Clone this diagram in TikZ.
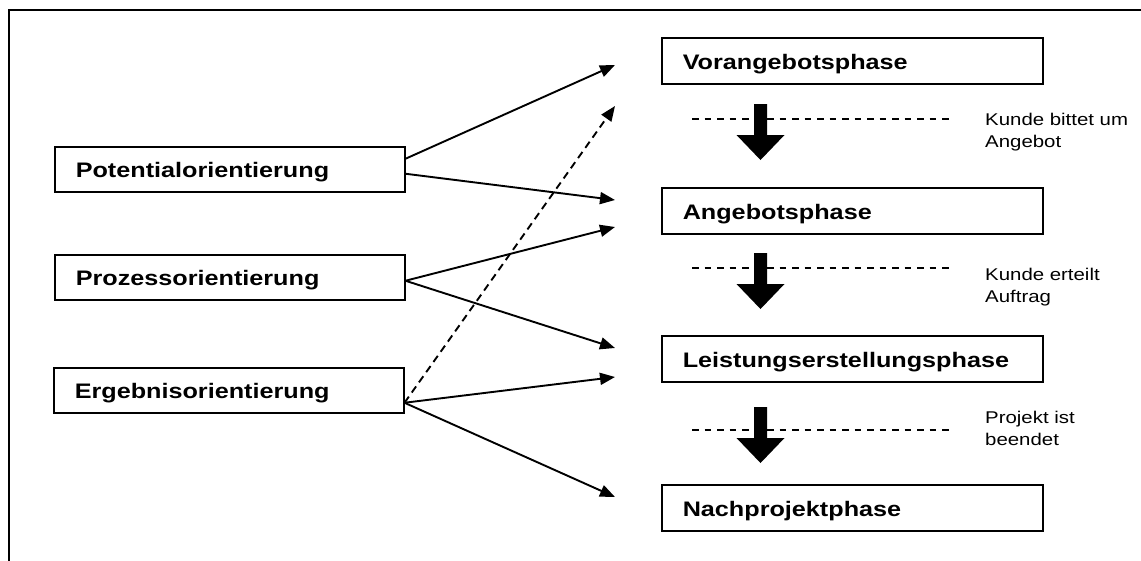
\documentclass[tikz,border=0pt]{standalone}
\usepackage{fontspec}
\setmainfont{Liberation Sans}[FakeStretch=1.2]
\usetikzlibrary{arrows.meta}
\begin{document}
\begin{tikzpicture}[x=1pt,y=-1pt,
  phasebox/.style={draw, line width=1.5pt, rectangle, anchor=north west,
    minimum width=381pt, minimum height=46pt, inner xsep=21pt, inner ysep=0pt,
    text width=339pt, align=left, text height=17pt, text depth=0pt,
    font=\fontsize{21}{24}\selectfont\bfseries},
  orientbox/.style={phasebox, minimum width=350pt, minimum height=45pt, text width=308pt},
  link/.style={line width=1.9pt, -{Triangle[length=15pt,width=12pt]}},
  dlink/.style={link, dash pattern=on 7.5pt off 5pt},
  sep/.style={line width=1.4pt, dash pattern=on 6.5pt off 6pt},
  note/.style={anchor=base west, align=left, inner sep=0pt,
    font=\fontsize{17}{22}\selectfont},
  bigdown/.pic={\fill (-6.5,0) -- (6.5,0) -- (6.5,31) -- (24,31) -- (0,56)
    -- (-24,31) -- (-6.5,31) -- cycle;}
]
\useasboundingbox (0,0) rectangle (1141,560);
\begin{scope}
  \clip (0,0) rectangle (1141,560);
  \draw[line width=1.8pt] (9,10) rectangle (1160,580);
\end{scope}

% orientations
\node[orientbox] (pot)  at (54,146) {Potentialorientierung};
\node[orientbox] (proz) at (54,254) {Prozessorientierung};
\node[orientbox] (erg)  at (53,367) {Ergebnisorientierung};

% phases
\node[phasebox] (vor)  at (661,37)  {Vorangebotsphase};
\node[phasebox] (ang)  at (661,187) {Angebotsphase};
\node[phasebox] (leis) at (661,335) {Leistungserstellungsphase};
\node[phasebox] (nach) at (661,484) {Nachprojektphase};

% milestones between phases
\draw[sep] (692,119) -- (952,119);
\draw[sep] (692,268) -- (952,268);
\draw[sep] (692,430) -- (952,430);
\pic at (760.5,104) {bigdown};
\pic at (760.5,253) {bigdown};
\pic at (760.5,407) {bigdown};

% the base anchor of a two-line note sits on its second line
\node[note] (m1) at (985,147) {Kunde bittet um\\Angebot};
\node[note] (m2) at (985,302) {Kunde erteilt\\Auftrag};
\node[note] (m3) at (985,445) {Projekt ist\\beendet};

% arrow ends in front of the phases
\coordinate (t1) at (615,65);
\coordinate (t2) at (615,200);
\coordinate (t3) at (615,227);
\coordinate (t4) at (615,348);
\coordinate (t5) at (615,377);
\coordinate (t6) at (615,497);
\coordinate (t7) at (615,106);

\draw[link] ([yshift=10.5pt]pot.east) -- (t1);
\draw[link] ([yshift=-4.5pt]pot.east) -- (t2);
\draw[link] ([yshift=-3.5pt]proz.east) -- (t3);
\draw[link] ([yshift=-3.5pt]proz.east) -- (t4);
\draw[link] ([yshift=-12.5pt]erg.east) -- (t5);
\draw[link] ([yshift=-12.5pt]erg.east) -- (t6);
\draw[dlink] ([yshift=-12.5pt]erg.east) -- (t7);
\end{tikzpicture}
\end{document}
